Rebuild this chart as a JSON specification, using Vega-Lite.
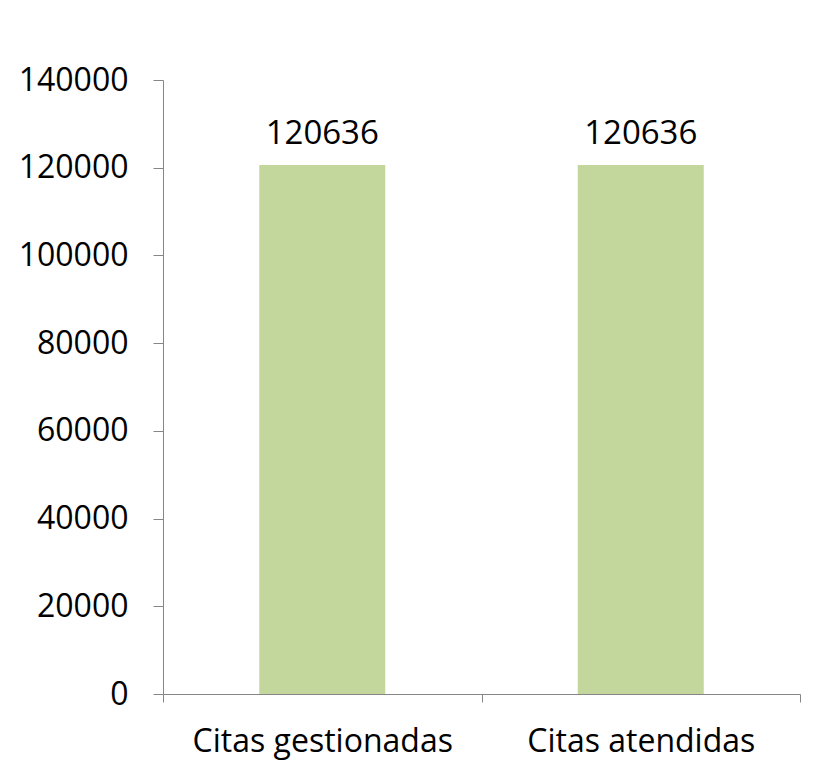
{
  "$schema": "https://vega.github.io/schema/vega-lite/v6.json",
  "width": 637,
  "height": 614,
  "autosize": "none",
  "padding": {"left": 163, "top": 80, "right": 15, "bottom": 82},
  "background": "white",
  "data": {"values": [
    {"categoria": "Citas gestionadas", "valor": 120636},
    {"categoria": "Citas atendidas", "valor": 120636}
  ]},
  "config": {
    "view": {"stroke": null},
    "font": "Open Sans"
  },
  "encoding": {
    "x": {
      "field": "categoria", "type": "nominal", "sort": null,
      "scale": {"paddingInner": 0, "paddingOuter": 0},
      "axis": {
        "title": null, "labelAngle": 0, "labelFont": "Open Sans", "labelFontSize": 32,
        "labelLimit": 0,
        "labelColor": "black", "domainColor": "#868686", "tickColor": "#868686",
        "tickBand": "extent", "tickSize": 8, "labelPadding": 24
      }
    },
    "y": {
      "field": "valor", "type": "quantitative",
      "scale": {"domain": [0, 140000]},
      "axis": {
        "title": null, "values": [0, 20000, 40000, 60000, 80000, 100000, 120000, 140000],
        "format": "d", "grid": false, "labelFont": "Open Sans", "labelFontSize": 32,
        "labelColor": "black", "domainColor": "#868686", "tickColor": "#868686",
        "tickSize": 10, "labelPadding": 25
      }
    }
  },
  "layer": [
    {"mark": {"type": "bar", "color": "#C3D69B", "size": 126}},
    {"mark": {"type": "text", "baseline": "bottom", "dy": -14, "fontSize": 33, "font": "Open Sans", "color": "black"},
     "encoding": {"text": {"field": "valor", "type": "quantitative", "format": "d"}}}
  ]
}
